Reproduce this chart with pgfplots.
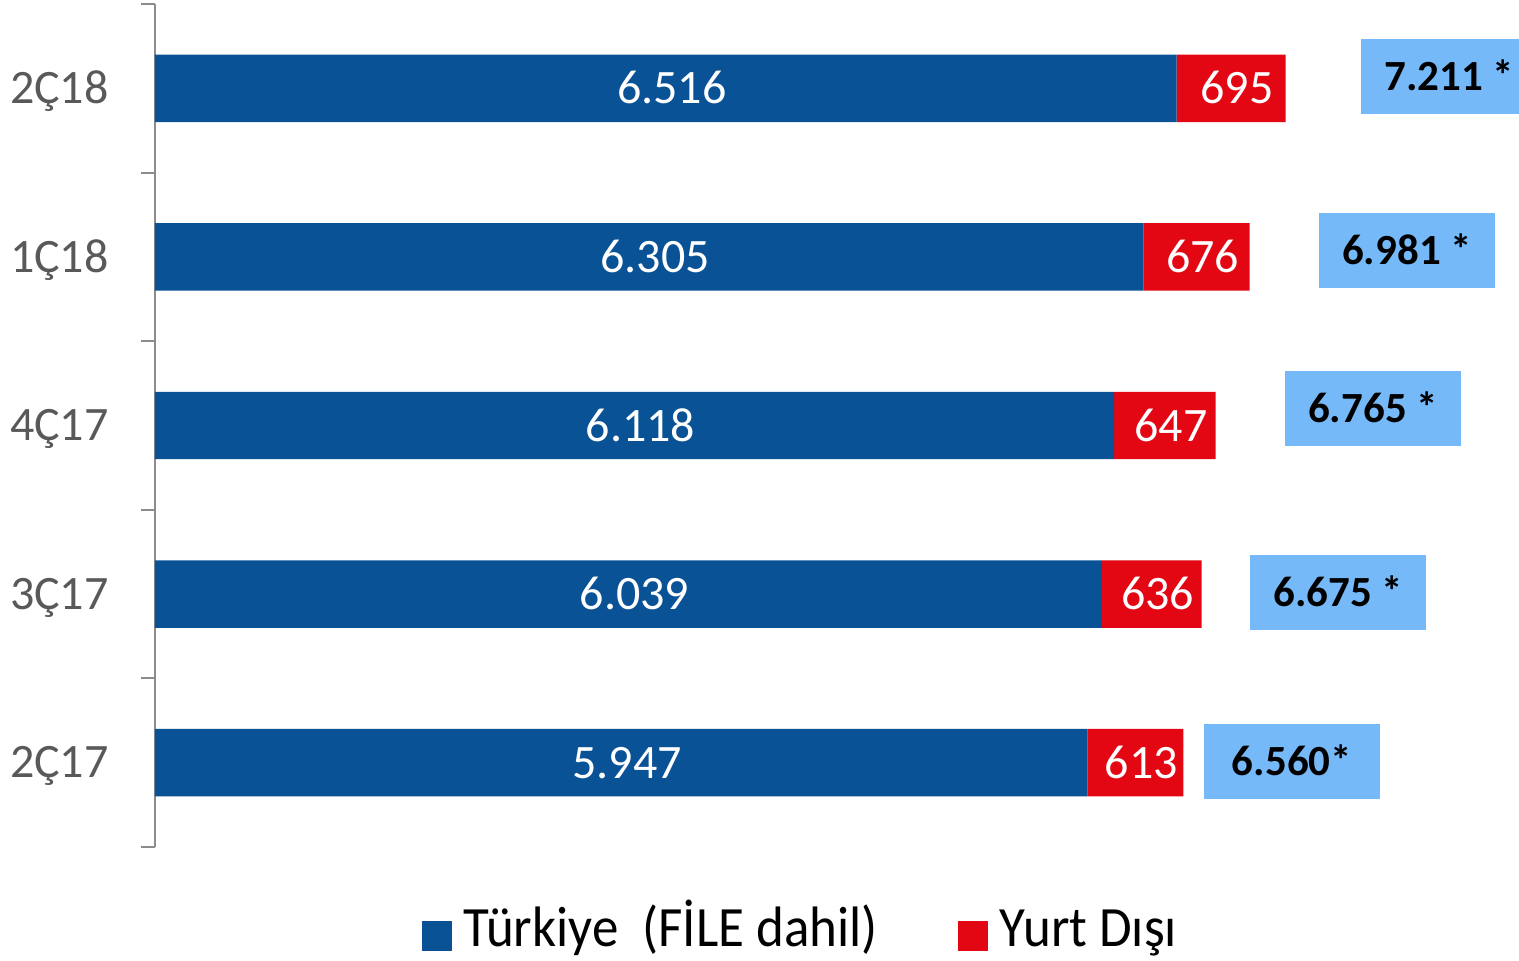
\documentclass[border=0pt]{standalone}
\usepackage{pgfplots}
\pgfplotsset{compat=1.18}
\usepackage{pgfplotstable}
\usepackage{fontspec}
\setmainfont{Carlito}
\newfontfamily\legendfont[FakeStretch=0.93]{Carlito}

\definecolor{trblue}{HTML}{0A5296}
\definecolor{ydred}{HTML}{E30613}
\definecolor{totblue}{HTML}{75B9F8}
\definecolor{catgray}{HTML}{595959}
\definecolor{axgray}{HTML}{8C8C8C}

% y: 0 = 2Ç17 (bottom) ... 4 = 2Ç18 (top)
\pgfplotstableread{
y tr yd
4 6516 695
3 6305 676
2 6118 647
1 6039 636
0 5947 613
}\bars

% boxed totals, placed to the right of each bar
\pgfplotstableread{
bx by lab
8254 4.07 {7.211 *}
7986 3.04 {6.981 *}
7769 2.10 {6.765 *}
7546 1.01 {6.675 *}
7252 0.01 {6.560*}
}\totals

\pgfplotsset{
  frame/.style={scale only axis, width=682pt, height=421.5pt,
    xmin=0, xmax=8700, ymin=-0.5, ymax=4.5, clip=false},
}

\begin{document}
\begin{tikzpicture}
\begin{axis}[
  frame,
  xbar stacked,
  bar width=0.4,
  axis y line*=left,
  axis x line=none,
  y axis line style={axgray, line width=1pt},
  xtick=\empty,
  ytick={0,1,2,3,4},
  yticklabels={2Ç17,3Ç17,4Ç17,1Ç18,2Ç18},
  major tick length=0pt,
  tick align=outside,
  extra y ticks={-0.5,0.5,1.5,2.5,3.5,4.5},
  extra y tick labels={},
  extra y tick style={major tick length=7pt, tick style={axgray, line width=1pt}},
  yticklabel style={font=\fontsize{24}{28}\selectfont, text=catgray,
    anchor=base east, inner sep=0pt, xshift=-23pt, yshift=-7.6pt},
  /pgf/number format/.cd, 1000 sep={.}, assume math mode=true,
  /pgfplots/.cd,
  nodes near coords, point meta=explicit,
  nodes near coords style={text=white, anchor=base, xshift=3pt, yshift=-7.8pt,
    font=\fontsize{24}{28}\selectfont},
  legend style={at={(0.4738,-0.103)}, anchor=center, draw=none,
    legend columns=2, font=\legendfont\fontsize{28.5}{32}\selectfont,
    nodes={text height=19pt, text depth=6pt},
    /tikz/every odd column/.append style={column sep=4pt},
    /tikz/every even column/.append style={column sep=38pt}},
  legend image code/.code={\fill[#1] (0pt,-8.5pt) rectangle (15pt,6.5pt);},
]
\addplot[fill=trblue, draw=none] table[x=tr, y=y, meta=tr] {\bars};
\addplot[fill=ydred, draw=none] table[x=yd, y=y, meta=yd] {\bars};
\legend{Türkiye~~(FİLE dahil), Yurt Dışı}
\end{axis}

% totals, drawn in an overlaid axis of the same size
\begin{axis}[
  frame, hide axis,
  nodes near coords, point meta=explicit symbolic,
  nodes near coords style={fill=totblue, text=black, anchor=center,
    minimum width=88pt, minimum height=37.5pt, inner sep=0pt,
    text height=14pt, text depth=0pt,
    font=\bfseries\fontsize{21.5}{25}\selectfont},
]
\addplot[only marks, mark=*, mark size=0pt, draw=none]
  table[x=bx, y=by, meta=lab] {\totals};
\end{axis}

\pgfresetboundingbox
\path[use as bounding box] ([xshift=-77.5pt, yshift=-57pt]current axis.south west)
  rectangle ([yshift=2pt]current axis.north east);
\end{tikzpicture}
\end{document}
